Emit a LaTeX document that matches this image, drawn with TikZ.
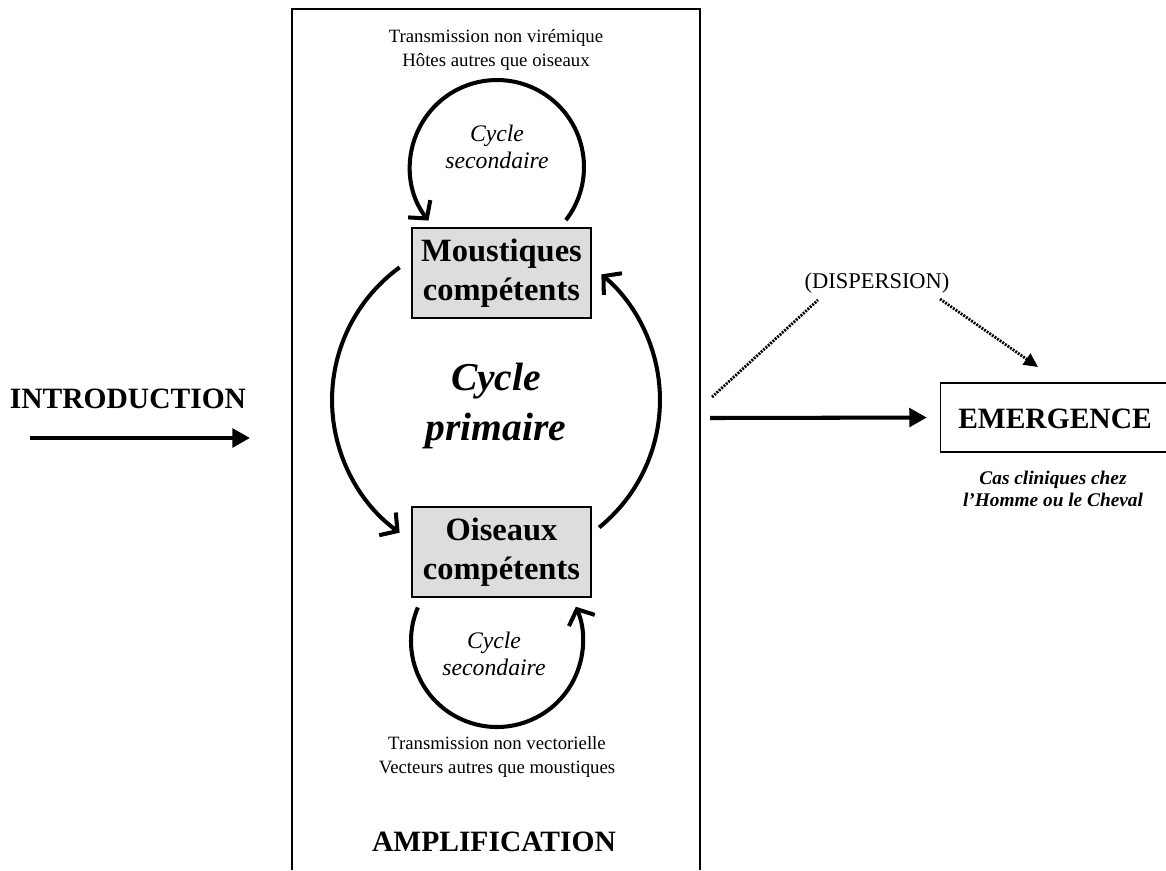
\documentclass[tikz,border=0pt]{standalone}
\usepackage{fontspec}
\setmainfont{Liberation Serif}
\usetikzlibrary{arrows.meta}
\definecolor{boxgray}{RGB}{221,221,221}
\begin{document}
\begin{tikzpicture}[x=0.02cm,y=0.02cm,
  hostbox/.style={draw, line width=0.6pt, fill=boxgray, minimum width=3.58cm, minimum height=1.8cm,
    inner sep=0pt, align=center, font=\bfseries\fontsize{18.5}{22}\selectfont},
  bigtitle/.style={font=\bfseries\fontsize{16.8}{20}\selectfont, inner sep=0pt},
  smalltxt/.style={align=center, inner sep=0pt, font=\fontsize{10.7}{13.6}\selectfont},
  seclabel/.style={align=center, inner sep=0pt, font=\itshape\fontsize{13.5}{15.5}\selectfont},
  cyc/.style={line width=2.3pt, -{Straight Barb[length=7pt,width=16pt]}},
  bigarrow/.style={line width=2.3pt, -{Triangle[length=10pt,width=10.5pt]}},
  disp/.style={line width=1.6pt, dash pattern=on 1.1pt off 0.7pt},
  disparrow/.style={disp, -{Triangle[length=8pt,width=7.5pt]}}
]
\useasboundingbox (0,0) rectangle (1166,-870);

% amplification frame
\draw[line width=0.8pt] (292,-870) -- (292,-9) -- (700,-9) -- (700,-870);

% texts inside frame
\node[smalltxt] (top) at (496,-50) {Transmission non virémique\\Hôtes autres que oiseaux};
\node[smalltxt] (bot) at (497,-757) {Transmission non vectorielle\\Vecteurs autres que moustiques};
\node[bigtitle] (ampl) at (494,-842) {AMPLIFICATION};

% host boxes
\node[hostbox] (M) at (501.5,-273) {Moustiques\\compétents};
\node[hostbox] (O) at (501.5,-552) {Oiseaux\\compétents};

% cycle centres
\coordinate (C1) at (497,-167);
\coordinate (P) at (496,-400);
\coordinate (C2) at (497,-641);

\node[seclabel] (s1) at (497,-147) {Cycle\\secondaire};
\node[seclabel] (s2) at (494,-654) {Cycle\\secondaire};
\node[align=center, inner sep=0pt, font=\bfseries\itshape\fontsize{22.5}{28}\selectfont] (prim) at (496,-406) {Cycle\\primaire};

% secondary cycle (top)
\draw[cyc] ([shift={(-37.6:1.74cm)}]C1) arc[start angle=-37.6, end angle=218, radius=1.74cm];
% primary cycle
\draw[cyc] ([shift={(126:3.28cm)}]P) arc[start angle=126, end angle=234, radius=3.28cm];
\draw[cyc] ([shift={(-51:3.28cm)}]P) arc[start angle=-51, end angle=50, radius=3.28cm];
% secondary cycle (bottom)
\draw[cyc] ([shift={(157:1.72cm)}]C2) arc[start angle=157, end angle=383.5, radius=1.72cm];

% introduction
\node[bigtitle] (intro) at (128,-399) {INTRODUCTION};
\coordinate (i1) at (30,-438);
\coordinate (i2) at (250,-438);
\draw[bigarrow] (i1) -- (i2);

% emergence
\node[draw, line width=0.8pt, minimum width=4.7cm, minimum height=1.38cm, inner sep=0pt] (E) at (1058,-417.5) {};
\node[bigtitle] (Et) at (1055,-419) {EMERGENCE};
\node[align=center, inner sep=0pt, font=\bfseries\itshape\fontsize{11}{12.5}\selectfont] (cas) at (1053,-489) {Cas cliniques chez\\l’Homme ou le Cheval};
\coordinate (e1) at (710,-418);
\draw[bigarrow, shorten >=0.26cm] (e1) -- (E.west);

% dispersion
\node[inner sep=0pt, font=\fontsize{12.8}{15}\selectfont] (D) at (877,-283) {(DISPERSION)};
\coordinate (d1) at (712,-397);
\coordinate (d2) at (818,-300);
\coordinate (d3) at (940,-299);
\coordinate (d4) at (1038,-367);
\draw[disp] (d1) -- (d2);
\draw[disparrow] (d3) -- (d4);
\end{tikzpicture}
\end{document}
